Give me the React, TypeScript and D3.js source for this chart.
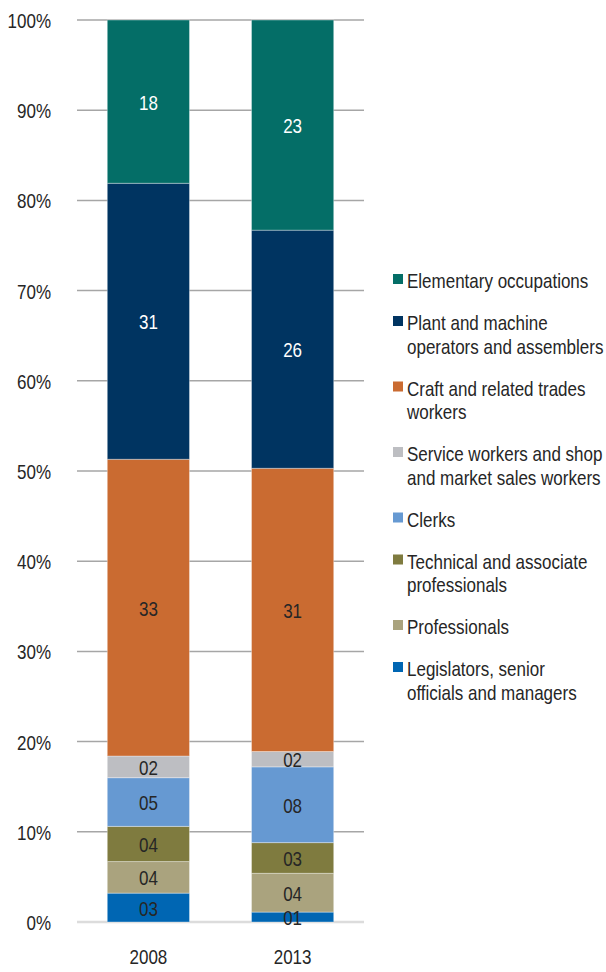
import * as d3 from 'd3'

const YEARS = ['2008', '2013']

// bottom to top stacking order
const CATEGORIES = [
  'Legislators, senior officials and managers',
  'Professionals',
  'Technical and associate professionals',
  'Clerks',
  'Service workers and shop and market sales workers',
  'Craft and related trades workers',
  'Plant and machine operators and assemblers',
  'Elementary occupations',
]

const SHARE_2008 = [3.2, 3.5, 3.9, 5.4, 2.4, 32.9, 30.6, 18.1]
const SHARE_2013 = [1.1, 4.3, 3.4, 8.4, 1.7, 31.4, 26.4, 23.3]

const Y_TICKS = [0, 10, 20, 30, 40, 50, 60, 70, 80, 90, 100]

// legend text, top to bottom, split in lines as printed
const LEGEND_LINES = [
  ['Elementary occupations'],
  ['Plant and machine', 'operators and assemblers'],
  ['Craft and related trades', 'workers'],
  ['Service workers and shop', 'and market sales workers'],
  ['Clerks'],
  ['Technical and associate', 'professionals'],
  ['Professionals'],
  ['Legislators, senior', 'officials and managers'],
]

const COLORS = [
  '#0066b3', // legislators
  '#aaa37e', // professionals
  '#7f7b3f', // technical
  '#6699d2', // clerks
  '#bdbec2', // service
  '#ca6b31', // craft
  '#003461', // plant
  '#046e67', // elementary
]
const LIGHT_TEXT = new Set([6, 7])

const FONT = '"Liberation Sans", Arial, sans-serif'
const FS = 20
const SX = 0.85 // glyphs in the original are condensed

export default function App() {
  const width = 606
  const height = 972

  const rows = YEARS.map((year, i) => {
    const vals = i === 0 ? SHARE_2008 : SHARE_2013
    const row: any = { year }
    CATEGORIES.forEach((c, j) => (row[c] = vals[j]))
    return row
  })

  const series = d3.stack().keys(CATEGORIES)(rows)

  const x = d3
    .scaleBand()
    .domain(YEARS)
    .range([77, 364])
    .paddingInner(0.43)
    .paddingOuter(0.21)

  const y = d3.scaleLinear().domain([0, 100]).range([922, 20])

  const fmt = (v: number) => String(Math.round(v)).padStart(2, '0')

  // legend layout
  let ly = 288
  const legendItems = LEGEND_LINES.map((lines, i) => {
    const item = { lines, y: ly, color: COLORS[CATEGORIES.length - 1 - i] }
    ly += 18.5 + 23.5 * lines.length
    return item
  })

  return (
    <svg
      width={width}
      height={height}
      style={{ position: 'absolute', left: 0, top: 0, background: '#fff' }}
      fontFamily={FONT}
    >
      {/* gridlines */}
      {Y_TICKS.filter(t => t > 0).map(t => (
        <line
          key={t}
          x1={77}
          x2={364}
          y1={y(t)}
          y2={y(t)}
          stroke="#a6a6a6"
          strokeWidth={1.5}
        />
      ))}
      <line x1={77} x2={364} y1={y(0)} y2={y(0)} stroke="#dcdcdc" strokeWidth={2.5} />

      {/* y tick labels */}
      {Y_TICKS.map(t => (
        <text
          key={t}
          transform={`translate(51,${y(t) + 1}) scale(${SX},1)`}
          textAnchor="end"
          dominantBaseline="central"
          fontSize={FS}
          fill="#262626"
        >
          {t}%
        </text>
      ))}

      {/* bars */}
      {series.map((s, j) => (
        <g key={s.key} fill={COLORS[j]}>
          {s.map((d, i) => (
            <rect
              key={i}
              x={x(YEARS[i])}
              width={x.bandwidth()}
              y={y(d[1])}
              height={y(d[0]) - y(d[1])}
              stroke="#fff"
              strokeOpacity={0.35}
              strokeWidth={1}
            />
          ))}
        </g>
      ))}

      {/* value labels */}
      {series.map((s, j) =>
        s.map((d, i) => (
          <text
            key={`${j}-${i}`}
            transform={`translate(${x(YEARS[i])! + x.bandwidth() / 2},${
              (y(d[0]) + y(d[1])) / 2 + 1
            }) scale(${SX},1)`}
            textAnchor="middle"
            dominantBaseline="central"
            fontSize={FS}
            fill={LIGHT_TEXT.has(j) ? '#fff' : '#262626'}
          >
            {fmt(d[1] - d[0])}
          </text>
        ))
      )}

      {/* x labels */}
      {YEARS.map(yr => (
        <text
          key={yr}
          transform={`translate(${x(yr)! + x.bandwidth() / 2},964) scale(${SX},1)`}
          textAnchor="middle"
          fontSize={FS}
          fill="#262626"
        >
          {yr}
        </text>
      ))}

      {/* legend */}
      {legendItems.map((it, i) => (
        <g key={i}>
          <rect x={393} y={it.y - 14} width={10} height={10} fill={it.color} />
          {it.lines.map((ln, k) => (
            <text
              key={k}
              transform={`translate(407,${it.y + k * 23.5}) scale(${SX},1)`}
              fontSize={FS}
              fill="#262626"
            >
              {ln}
            </text>
          ))}
        </g>
      ))}
    </svg>
  )
}
